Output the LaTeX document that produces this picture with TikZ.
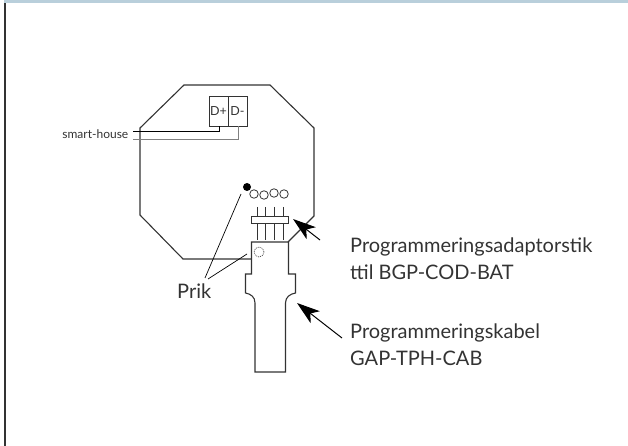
\documentclass[tikz,border=0pt]{standalone}
\usepackage{fontspec}
\setmainfont{Lato}
\usetikzlibrary{arrows.meta}
\definecolor{barblue}{HTML}{B9CFDB}
\definecolor{ink}{HTML}{333333}
\tikzset{
  outline/.style={draw=ink,line width=1.1pt,line join=miter},
  wire/.style={line width=1pt},
  pointer/.style={draw=black,line width=1pt,{Stealth[length=23pt,width=15pt,inset=6pt]}-},
  leader/.style={draw=black,line width=0.7pt},
  label/.style={font=\fontsize{20}{24}\selectfont,text=ink,align=left,anchor=base west,inner sep=0pt},
  pinhole/.style={circle,draw=ink,line width=0.8pt,fill=white,minimum size=8.5pt,inner sep=0pt},
  terminal/.style={draw=ink,line width=0.9pt,minimum width=19pt,minimum height=30pt,inner sep=0pt,font=\fontsize{12.5}{14}\selectfont,text=ink},
}
\begin{document}
\begin{tikzpicture}[x=1pt,y=-1pt]
\useasboundingbox (0,0) rectangle (628,446);
\fill[barblue] (4,0) rectangle (628,3);
\fill[ink] (4,3) rectangle (5.5,446);
% octagon housing
\draw[outline] (251,259) -- (183,259) -- (140,215) -- (140,128) -- (184,85) -- (270,85) -- (314,128) -- (314,216) -- (288,242);
% terminals
\node[terminal] (dp) at (218.5,111) {D+};
\node[terminal] (dm) at (237.5,111) {D-};
% wires
\coordinate (wa) at (133,132);
\coordinate (wb) at (133,140);
\draw[wire,black] (wa) -- (219,132) -- (219,126);
\draw[wire,draw=gray] (wb) -- (238,140) -- (238,126);
\node[font=\fontsize{12}{14}\selectfont,text=ink,anchor=east,inner sep=0pt] (sh) at (128.5,134.5) {smart-house};
% holes
\node[circle,fill=black,minimum size=8pt,inner sep=0pt] (dot) at (247,187) {};
\node[pinhole] (h1) at (254,194) {};
\node[pinhole] (h2) at (264,195) {};
\node[pinhole] (h3) at (274,193) {};
\node[pinhole] (h4) at (284,194) {};
% adaptor
\foreach \x in {257,265.5,274,283}{\draw[draw=ink,line width=0.9pt] (\x,207) -- (\x,240);}
\node[draw=ink,fill=white,line width=1pt,minimum width=37pt,minimum height=7pt,inner sep=0pt] (bar) at (269.5,219.5) {};
% cable
\draw[outline] (251.5,242) -- (288.5,242) -- (288.5,274) -- (295.5,274) -- (295.5,293)
  .. controls (290,294) and (285.5,297) .. (285.5,303) -- (285.5,372) -- (255,372) -- (255,303)
  .. controls (255,297) and (251,294) .. (245.5,293) -- (245.5,274) -- (251.5,274) -- cycle;
\node[circle,draw=ink,dash pattern=on 1pt off 1pt,line width=0.6pt,minimum size=10pt,inner sep=0pt] (mark) at (259,252) {};
% labels
\node[label] (prik) at (177,298) {Prik};
\node[label] (l1) at (350,252) {Programmeringsadaptorstik};
\node[label] (l2) at (350,279) {ttil BGP-COD-BAT};
\node[label] (l3) at (350,338.5) {Programmeringskabel};
\node[label] (l4) at (350,365) {GAP-TPH-CAB};
% pointers
\coordinate (t1) at (293,219);
\coordinate (s1) at (320,240);
\coordinate (t2) at (297,303);
\coordinate (s2) at (342,338);
\draw[pointer] (t1) -- (s1);
\draw[pointer] (t2) -- (s2);
\coordinate (p1) at (241,194);
\coordinate (p2) at (247,254);
\coordinate (q1) at (205,278);
\coordinate (q2) at (208,279);
\draw[leader] (q1) -- (p1);
\draw[leader] (q2) -- (p2);
\end{tikzpicture}
\end{document}
